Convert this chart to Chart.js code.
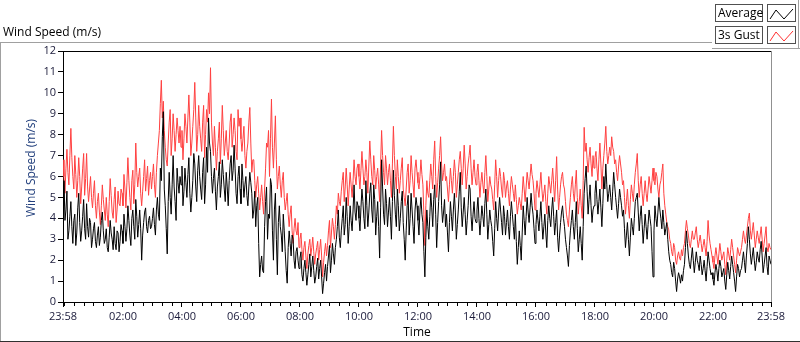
<!DOCTYPE html>
<html>
<head>
<meta charset="utf-8">
<script src="https://cdn.jsdelivr.net/npm/chart.js@4.4.0/dist/chart.umd.min.js"></script>
<style>
  body { margin: 0; background: #fff; font-family: "Open Sans", sans-serif; }
  #wrap { position: relative; width: 800px; height: 342px; overflow: hidden; }
  #chart { position: absolute; left: 0; top: 0; }
  .line { position: absolute; }
  .txt { position: absolute; font-size: 12px; line-height: 16px; color: #000; white-space: nowrap; }
  .lbox { position: absolute; box-sizing: border-box; height: 18px; border: 1px solid #505050; background: #fff; }
  .lbox span { position: absolute; left: 2px; top: 0; font-size: 12px; line-height: 16px; }
</style>
</head>
<body>
<div id="wrap">
  <canvas id="chart" width="800" height="342"></canvas>
  <div class="line" style="left:0;top:42px;width:712px;height:1px;background:#a0a0a0"></div>
  <div class="line" style="left:0;top:42px;width:1px;height:300px;background:#a0a0a0"></div>
  <div class="line" style="left:0;top:341px;width:800px;height:1px;background:#303030"></div>
  <div class="line" style="left:712px;top:48px;width:88px;height:1px;background:#a0a0a0"></div>
  <div class="line" style="left:798px;top:0;width:1px;height:49px;background:#a0a0a0"></div>
  <div class="txt" style="left:3px;top:24px">Wind Speed (m/s)</div>
  <div class="txt" id="ytitle" style="left:31px;top:168px;color:#23407d;transform:translate(-50%,-50%) rotate(-90deg)">Wind Speed (m/s)</div>
  <div class="lbox" style="left:715px;top:4px;width:48px"><span>Average</span></div>
  <div class="lbox" style="left:767px;top:4px;width:29px">
    <svg width="27" height="16"><polyline points="2,13 8,4 16,13 25,3" fill="none" stroke="#000" stroke-width="1"/></svg>
  </div>
  <div class="lbox" style="left:715px;top:26px;width:48px"><span>3s Gust</span></div>
  <div class="lbox" style="left:767px;top:26px;width:29px">
    <svg width="27" height="16"><polyline points="2,13 8,4 16,13 25,3" fill="none" stroke="#ff3030" stroke-width="1"/></svg>
  </div>
</div>
<script>
// one sample every 2 minutes, starting 23:58 (one row = one hour)
const sampleStepMin = 2;

const avgSpeed = [
  4.6, 5.8, 3.9, 4.4, 5.3, 3.0, 3.4, 4.1, 4.8, 3.6, 2.8, 3.9, 4.2, 2.7, 3.3, 4.5, 5.2, 3.8, 2.9, 3.4, 4.1, 4.9, 3.5, 3.0, 4.7, 3.6, 3.1, 4.0, 3.8, 2.6,
  3.0, 3.5, 3.8, 2.9, 2.6, 3.2, 3.6, 2.7, 3.1, 3.9, 4.3, 3.4, 2.8, 3.0, 3.5, 2.6, 2.4, 3.1, 3.9, 3.3, 3.0, 2.5, 3.6, 2.8, 2.5, 3.4, 3.3, 2.4, 2.9, 3.7,
  3.4, 2.8, 4.2, 3.6, 2.9, 3.5, 4.6, 3.9, 3.2, 2.7, 4.0, 4.4, 3.6, 3.0, 4.9, 4.1, 3.1, 3.7, 4.4, 3.5, 2.0, 3.2, 3.8, 4.3, 4.5, 3.6, 3.3, 3.9, 4.1, 3.5,
  3.6, 4.0, 4.5, 3.7, 3.2, 4.4, 5.0, 4.2, 3.9, 6.4, 5.8, 7.9, 9.1, 5.4, 4.6, 3.5, 2.3, 4.8, 6.2, 5.0, 4.2, 5.6, 7.0, 5.5, 4.8, 3.9, 6.4, 5.7, 5.2, 6.0,
  5.6, 6.5, 4.6, 5.3, 6.4, 5.7, 5.0, 6.1, 6.9, 5.2, 4.3, 5.0, 5.8, 7.1, 6.6, 5.5, 4.8, 6.3, 7.0, 6.0, 5.4, 4.9, 6.2, 6.9, 4.7, 5.6, 7.4, 6.2, 8.8, 7.6,
  7.2, 6.0, 5.2, 5.9, 6.4, 5.3, 4.4, 5.5, 6.0, 6.7, 5.0, 5.6, 6.8, 6.1, 5.4, 4.8, 6.2, 5.5, 4.6, 5.8, 6.6, 7.0, 5.8, 6.3, 7.5, 6.4, 5.2, 4.7, 6.0, 6.5,
  5.4, 4.7, 6.6, 5.8, 5.0, 5.6, 6.0, 5.1, 4.6, 5.5, 6.2, 5.7, 5.2, 4.0, 4.4, 5.3, 3.6, 4.6, 5.0, 2.8, 1.2, 1.8, 2.2, 1.5, 1.4, 3.6, 4.8, 5.5, 3.0, 4.2,
  4.0, 5.9, 5.6, 3.4, 2.0, 4.4, 5.2, 3.0, 1.3, 3.8, 4.6, 3.6, 3.2, 2.4, 4.2, 3.4, 2.4, 1.5, 0.9, 2.6, 3.4, 2.8, 2.2, 3.2, 3.0, 2.0, 1.6, 2.4, 2.6, 2.0,
  1.6, 2.1, 2.4, 1.3, 1.0, 1.6, 2.0, 1.4, 0.8, 1.3, 1.8, 2.3, 1.2, 1.7, 2.2, 1.5, 0.9, 1.2, 1.7, 2.1, 1.1, 1.6, 2.0, 1.2, 0.4, 0.9, 1.4, 1.8, 1.0, 1.7,
  2.2, 2.7, 1.4, 2.0, 2.8, 2.3, 1.8, 2.6, 3.0, 3.6, 4.4, 3.1, 2.6, 3.4, 4.0, 4.6, 3.2, 3.7, 5.0, 4.1, 2.8, 3.6, 4.6, 3.9, 3.4, 4.4, 5.6, 4.3, 3.9, 4.8,
  4.6, 4.0, 3.4, 4.5, 5.4, 4.8, 4.0, 3.5, 5.8, 4.6, 3.6, 4.3, 5.2, 5.7, 4.4, 3.8, 5.6, 4.9, 3.2, 4.1, 4.8, 3.6, 2.1, 4.5, 6.8, 5.5, 4.2, 3.7, 5.4, 4.7,
  3.6, 4.3, 5.0, 4.1, 3.0, 4.8, 6.3, 5.1, 4.2, 3.6, 5.4, 4.6, 3.4, 4.0, 4.8, 5.3, 3.8, 3.0, 2.0, 3.4, 4.6, 5.1, 3.2, 4.0, 5.2, 4.4, 3.6, 2.8, 4.4, 5.0,
  4.6, 3.9, 3.2, 4.4, 5.0, 4.2, 3.8, 2.4, 1.2, 3.1, 4.4, 3.6, 3.0, 4.1, 5.2, 4.5, 3.6, 4.9, 5.6, 4.2, 2.6, 3.8, 4.8, 5.6, 6.7, 4.6, 3.8, 4.3, 4.9, 3.6,
  4.2, 3.3, 2.4, 3.8, 4.8, 4.1, 3.4, 4.4, 5.2, 4.3, 3.0, 3.7, 4.4, 5.3, 6.2, 4.5, 3.6, 4.3, 5.0, 4.2, 3.2, 3.9, 4.6, 5.6, 5.4, 4.1, 3.4, 4.2, 4.8, 4.0,
  3.8, 4.4, 5.0, 4.0, 3.2, 3.9, 4.6, 4.1, 3.6, 4.7, 5.4, 4.2, 3.0, 3.7, 4.4, 3.9, 3.6, 2.9, 2.2, 3.5, 4.8, 4.0, 3.4, 4.3, 5.0, 4.4, 3.8, 3.2, 4.6, 4.1,
  3.2, 3.8, 4.4, 3.6, 3.0, 4.1, 4.8, 4.2, 3.6, 3.0, 4.2, 2.9, 1.8, 2.6, 3.4, 2.7, 2.0, 3.3, 4.6, 3.9, 3.2, 4.1, 5.0, 4.3, 3.8, 4.5, 5.2, 4.6, 4.2, 3.5,
  2.8, 3.7, 4.4, 3.9, 3.4, 4.1, 4.8, 3.8, 3.0, 3.6, 4.2, 3.3, 2.6, 3.9, 4.6, 4.0, 3.6, 4.4, 5.0, 4.1, 3.2, 3.8, 4.4, 3.1, 2.4, 3.2, 3.8, 4.3, 4.6, 4.0,
  3.6, 3.0, 2.6, 2.2, 1.7, 2.7, 3.4, 3.9, 4.4, 3.6, 3.0, 3.8, 4.8, 3.5, 2.4, 3.0, 3.6, 2.8, 2.0, 3.6, 5.2, 5.9, 6.5, 5.3, 4.2, 4.9, 5.6, 4.6, 3.8, 4.4,
  4.6, 5.2, 5.8, 4.9, 4.2, 4.8, 5.4, 4.5, 3.6, 4.7, 6.0, 5.4, 6.6, 5.6, 4.8, 5.2, 5.6, 5.0, 4.4, 5.3, 6.2, 5.6, 5.0, 4.5, 4.0, 4.7, 5.4, 5.0, 4.6, 4.1,
  4.4, 3.5, 2.6, 3.2, 3.8, 3.0, 2.2, 3.1, 4.0, 3.6, 3.2, 4.0, 4.8, 5.0, 5.2, 4.3, 3.4, 4.1, 4.6, 3.7, 2.8, 3.5, 4.2, 3.6, 3.0, 3.7, 4.4, 4.0, 3.6, 2.4,
  1.2, 3.4, 4.6, 4.0, 3.6, 4.3, 5.0, 4.4, 4.0, 3.5, 4.4, 3.8, 3.2, 3.5, 3.8, 3.0, 2.4, 2.0, 1.8, 1.4, 1.2, 1.9, 1.6, 1.0, 0.5, 1.1, 1.4, 1.2, 0.9, 1.3,
  1.0, 1.5, 1.8, 2.6, 3.4, 2.8, 2.2, 1.8, 1.6, 2.1, 2.6, 2.0, 1.4, 1.9, 2.4, 2.0, 1.8, 1.5, 2.2, 1.8, 1.3, 1.6, 2.0, 1.5, 1.0, 1.7, 2.4, 2.0, 1.6, 1.3,
  1.4, 1.1, 0.8, 1.4, 1.8, 1.5, 1.0, 1.6, 2.0, 1.7, 1.2, 1.4, 1.6, 1.0, 0.6, 1.3, 1.9, 1.5, 1.1, 1.7, 2.2, 1.8, 1.4, 1.0, 0.5, 1.2, 1.8, 1.6, 1.2, 1.5,
  1.6, 2.0, 2.4, 1.9, 1.4, 2.2, 2.8, 3.6, 3.0, 2.3, 1.8, 2.2, 2.6, 2.0, 1.5, 1.9, 2.4, 2.1, 1.9, 2.5, 2.9, 2.2, 1.4, 1.8, 2.2, 2.6, 1.7, 1.3, 2.2, 2.0, 1.8
];

const gustSpeed = [
  6.8, 6.0, 5.2, 6.4, 7.3, 6.2, 5.6, 7.0, 8.3, 6.9, 6.0, 5.4, 7.0, 6.1, 5.0, 5.8, 6.9, 6.0, 4.7, 5.5, 6.4, 7.1, 5.1, 5.9, 7.1, 5.5, 4.8, 5.4, 6.0, 5.0,
  4.5, 5.2, 5.8, 4.6, 4.0, 4.8, 5.2, 4.3, 3.7, 4.6, 5.6, 4.9, 4.4, 3.9, 5.0, 4.2, 3.6, 4.8, 5.9, 5.1, 4.3, 4.0, 4.9, 5.5, 3.8, 4.4, 5.3, 4.7, 4.6, 5.4,
  5.2, 4.6, 6.1, 5.4, 4.5, 5.7, 6.9, 5.8, 5.0, 4.4, 5.8, 6.3, 4.7, 5.6, 7.6, 6.2, 5.5, 6.0, 6.4, 5.2, 4.6, 5.3, 6.0, 6.8, 5.3, 5.9, 6.5, 5.1, 5.8, 6.2,
  5.4, 6.0, 6.6, 5.6, 5.0, 6.2, 7.0, 7.6, 8.2, 9.5, 10.6, 8.8, 9.6, 8.2, 7.4, 6.8, 6.5, 7.6, 8.6, 9.2, 7.0, 7.8, 9.0, 8.2, 7.2, 8.0, 8.8, 8.2, 7.6, 8.4,
  7.4, 8.2, 6.8, 7.8, 9.0, 8.4, 7.6, 8.8, 9.9, 8.6, 7.0, 7.6, 8.4, 9.2, 10.5, 8.8, 7.2, 8.0, 9.4, 8.4, 7.8, 7.2, 8.6, 9.4, 6.9, 8.0, 9.2, 8.6, 10.0, 9.0,
  11.2, 8.6, 7.6, 7.0, 8.4, 7.4, 6.3, 7.2, 7.8, 8.6, 6.6, 7.8, 9.4, 8.2, 7.0, 7.6, 8.2, 7.2, 6.8, 7.6, 8.6, 9.0, 7.4, 8.0, 8.8, 8.2, 7.2, 6.8, 9.2, 8.4,
  8.8, 7.8, 7.2, 7.8, 8.4, 7.0, 6.4, 7.2, 7.6, 8.6, 9.3, 7.6, 6.2, 6.8, 6.8, 5.8, 5.0, 5.6, 6.0, 5.2, 4.4, 5.0, 5.6, 4.8, 4.2, 5.4, 6.4, 7.6, 7.4, 8.2,
  6.0, 7.8, 9.7, 7.4, 6.4, 7.6, 8.9, 6.8, 5.4, 6.0, 6.5, 5.6, 5.0, 5.8, 6.2, 5.0, 4.4, 4.8, 5.2, 4.2, 3.6, 4.2, 4.6, 3.4, 2.8, 3.5, 4.0, 3.4, 3.2, 3.8,
  2.6, 3.0, 3.3, 2.5, 2.0, 2.6, 2.9, 2.2, 1.6, 2.3, 2.7, 3.0, 2.2, 2.6, 3.1, 2.4, 1.8, 2.3, 2.6, 2.9, 2.0, 2.5, 3.0, 2.2, 1.2, 1.9, 2.4, 2.8, 2.2, 2.7,
  3.4, 3.9, 2.6, 3.3, 4.0, 3.6, 3.0, 3.7, 4.6, 4.2, 5.2, 4.8, 4.6, 5.3, 5.8, 6.2, 4.8, 5.5, 6.4, 5.6, 4.6, 5.4, 6.2, 5.6, 5.0, 5.8, 6.8, 6.0, 5.6, 6.4,
  6.6, 6.0, 5.4, 6.3, 7.2, 6.4, 5.6, 6.0, 6.8, 6.2, 5.2, 6.5, 7.7, 6.8, 6.0, 5.6, 7.0, 6.3, 5.4, 6.0, 6.4, 5.6, 4.8, 6.6, 8.2, 7.0, 6.2, 5.6, 7.0, 6.4,
  5.6, 6.2, 6.6, 5.8, 5.0, 6.6, 8.4, 7.0, 6.0, 5.4, 6.8, 6.0, 5.2, 5.8, 6.4, 6.9, 5.4, 5.0, 4.6, 5.4, 6.2, 6.6, 5.2, 5.8, 7.0, 6.2, 5.6, 5.0, 6.4, 6.8,
  6.2, 5.7, 5.4, 6.0, 6.8, 6.1, 5.6, 4.2, 2.7, 4.6, 5.8, 5.2, 5.0, 5.8, 6.6, 6.0, 5.4, 6.8, 7.7, 6.0, 5.0, 5.7, 6.4, 7.0, 7.9, 6.6, 5.8, 6.2, 6.6, 5.8,
  6.0, 5.4, 4.8, 5.6, 6.4, 5.8, 5.2, 6.0, 6.8, 6.2, 5.0, 5.6, 6.2, 6.8, 7.2, 6.4, 5.6, 6.4, 7.5, 6.6, 5.4, 6.0, 6.6, 7.0, 7.5, 6.4, 5.6, 6.2, 6.8, 6.0,
  5.6, 6.2, 6.6, 5.8, 5.0, 5.7, 6.2, 5.6, 5.2, 6.2, 7.0, 6.0, 4.8, 5.4, 6.0, 5.6, 5.4, 4.9, 4.4, 5.6, 6.8, 6.0, 5.0, 5.8, 6.4, 6.0, 5.4, 5.0, 6.2, 5.8,
  5.0, 5.5, 5.8, 5.2, 4.6, 5.4, 6.0, 5.6, 5.2, 4.8, 5.6, 4.9, 4.2, 4.6, 5.0, 4.7, 4.4, 5.2, 6.0, 5.4, 4.8, 5.5, 6.2, 5.8, 5.4, 6.0, 6.6, 6.1, 5.8, 5.2,
  4.4, 5.2, 5.8, 5.4, 5.0, 5.6, 6.2, 5.4, 4.8, 5.2, 5.6, 4.8, 4.2, 5.2, 6.0, 5.6, 5.2, 5.8, 6.4, 5.6, 4.8, 5.8, 6.95, 5.4, 4.4, 5.0, 5.6, 6.0, 6.2, 5.6,
  5.4, 4.8, 4.2, 3.9, 3.6, 4.4, 5.0, 5.6, 6.0, 5.2, 4.8, 5.6, 6.3, 5.0, 4.2, 4.8, 5.4, 4.6, 4.0, 5.8, 8.35, 7.2, 7.6, 6.8, 6.2, 6.9, 7.4, 6.6, 6.0, 7.0,
  6.4, 6.9, 7.2, 6.4, 5.8, 6.8, 7.6, 6.6, 5.4, 6.4, 7.0, 7.6, 8.4, 7.2, 6.6, 7.0, 7.4, 7.0, 7.9, 7.4, 7.2, 6.6, 6.8, 6.2, 5.8, 6.5, 7.0, 6.6, 6.2, 5.6,
  5.8, 5.0, 4.2, 4.8, 5.4, 4.6, 4.0, 4.9, 5.6, 5.2, 4.8, 5.6, 6.2, 6.6, 7.1, 5.8, 5.0, 5.6, 6.0, 5.2, 4.6, 5.2, 5.8, 5.2, 4.8, 5.4, 6.0, 5.6, 5.2, 5.8,
  6.4, 5.8, 5.6, 6.2, 6.0, 5.4, 5.0, 5.6, 5.8, 6.2, 6.6, 5.2, 4.6, 4.2, 3.8, 3.6, 3.45, 3.0, 2.8, 2.4, 2.2, 2.8, 2.6, 2.0, 1.8, 2.2, 2.4, 2.1, 2.0, 2.5,
  2.2, 2.6, 2.8, 3.4, 3.9, 3.5, 3.2, 2.8, 2.6, 3.0, 3.4, 3.0, 3.0, 3.3, 3.6, 3.0, 2.6, 2.9, 3.2, 2.8, 2.4, 2.7, 3.0, 2.6, 2.2, 2.9, 3.9, 3.2, 2.8, 2.5,
  2.2, 1.9, 1.6, 2.2, 2.6, 2.2, 1.8, 2.3, 2.8, 2.4, 2.0, 2.2, 2.4, 1.8, 1.3, 2.0, 2.6, 2.3, 2.0, 2.5, 3.0, 2.6, 2.2, 1.8, 1.4, 2.0, 2.6, 2.4, 2.2, 2.4,
  2.6, 3.0, 3.4, 3.0, 2.8, 3.2, 3.6, 4.0, 4.25, 3.4, 3.0, 3.4, 3.8, 3.2, 2.6, 3.0, 3.4, 3.1, 2.8, 3.2, 3.6, 3.0, 2.4, 2.8, 3.2, 3.6, 2.6, 2.4, 2.8, 2.6, 2.5
];

// major ticks (minutes after 23:58) and their labels
const xTickValues = [0, 122, 242, 362, 482, 602, 722, 842, 962, 1082, 1202, 1322, 1440];
const xTickLabels = ['23:58', '02:00', '04:00', '06:00', '08:00', '10:00', '12:00',
                     '14:00', '16:00', '18:00', '20:00', '22:00', '23:58'];
const yTickValues = [0, 1, 2, 3, 4, 5, 6, 7, 8, 9, 10, 11, 12];

function toPoints(arr) {
    return arr.map((v, i) => ({ x: i * sampleStepMin, y: v }));
}

const tickFont = { family: 'Open Sans', size: 11 };
const tickColor = '#1a1a3a';

// top/right border of the plot and the small minor ticks under the time axis
const framePlugin = {
    id: 'frame',
    afterDraw(chart) {
        const ctx = chart.ctx;
        const a = chart.chartArea;
        const xs = chart.scales.x;
        ctx.save();
        ctx.lineWidth = 1;
        ctx.strokeStyle = '#000';
        ctx.beginPath();
        ctx.moveTo(a.left, Math.round(a.top) + 0.5);
        ctx.lineTo(a.right, Math.round(a.top) + 0.5);
        ctx.stroke();
        ctx.strokeStyle = '#909090';
        ctx.beginPath();
        ctx.moveTo(Math.round(a.right) + 0.5, a.top);
        ctx.lineTo(Math.round(a.right) + 0.5, a.bottom);
        ctx.stroke();
        ctx.strokeStyle = '#000';
        ctx.beginPath();
        for (let m = 2; m < 1440; m += 20) {
            if (xTickValues.includes(m)) continue;
            const px = Math.round(xs.getPixelForValue(m)) + 0.5;
            ctx.moveTo(px, a.bottom);
            ctx.lineTo(px, a.bottom + 4);
        }
        ctx.stroke();
        ctx.restore();
    }
};

new Chart(document.getElementById('chart'), {
    type: 'line',
    data: {
        datasets: [
            {
                label: 'Average',
                data: toPoints(avgSpeed),
                borderColor: '#000000',
                borderWidth: 1,
                pointRadius: 0,
                tension: 0,
                order: 0
            },
            {
                label: '3s Gust',
                data: toPoints(gustSpeed),
                borderColor: '#ff4040',
                borderWidth: 1,
                pointRadius: 0,
                tension: 0,
                order: 1
            }
        ]
    },
    options: {
        responsive: false,
        animation: false,
        events: [],
        layout: { padding: { top: 51, right: 29, left: 0, bottom: 0 } },
        plugins: {
            legend: { display: false },
            tooltip: { enabled: false }
        },
        scales: {
            x: {
                type: 'linear',
                min: 0,
                max: 1440,
                afterBuildTicks: function(scale) {
                    scale.ticks = xTickValues.map(v => ({ value: v }));
                },
                afterFit: function(scale) { scale.height = 40; },
                ticks: {
                    autoSkip: false,
                    maxRotation: 0,
                    padding: 3,
                    color: tickColor,
                    font: tickFont,
                    callback: function(value, index) { return xTickLabels[index]; }
                },
                grid: { drawOnChartArea: false, tickLength: 5, color: '#000' },
                border: { color: '#000' },
                title: {
                    display: true,
                    text: 'Time',
                    color: '#000',
                    font: { family: 'Open Sans', size: 12 },
                    padding: { top: 0, bottom: 2 }
                }
            },
            y: {
                min: 0,
                max: 12,
                afterBuildTicks: function(scale) {
                    scale.ticks = yTickValues.map(v => ({ value: v }));
                },
                afterFit: function(scale) { scale.width = 63; },
                ticks: {
                    padding: 2,
                    color: tickColor,
                    font: tickFont
                },
                grid: { drawOnChartArea: false, tickLength: 5, color: '#000' },
                border: { color: '#000' }
            }
        }
    },
    plugins: [framePlugin]
});
</script>
</body>
</html>
